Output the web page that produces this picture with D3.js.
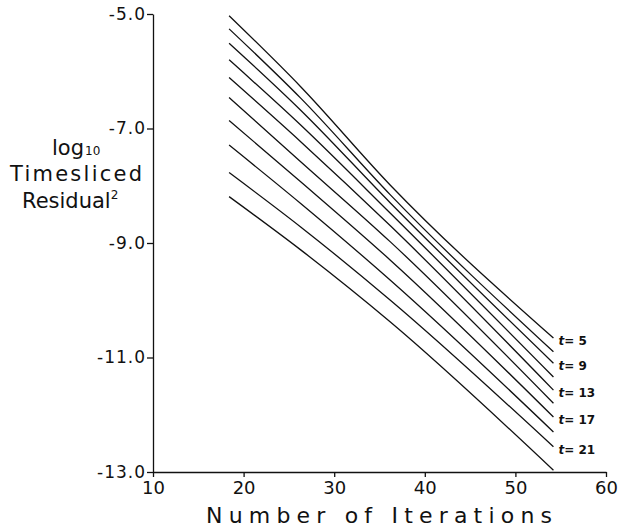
<!DOCTYPE html>
<html>
<head>
<meta charset="utf-8">
<script src="https://cdn.jsdelivr.net/npm/d3@7"></script>
<style>
  body { margin: 0; background: #fff; }
  svg text { font-family: "DejaVu Sans", sans-serif; fill: #111; }
</style>
</head>
<body>
<div id="chart"></div>
<script>
// iteration counts where each curve was sampled
const iterX = [18.4, 26.3, 36.2, 54.2];

// time slice index of each curve
const tValues = [5, 7, 9, 11, 13, 15, 17, 19, 21, 23];

// log10 of timesliced residual^2, one array per curve
const t5  = [-5.03, -6.27, -7.99, -10.66];
const t7  = [-5.26, -6.47, -8.16, -10.90];
const t9  = [-5.51, -6.68, -8.30, -11.10];
const t11 = [-5.80, -6.94, -8.48, -11.34];
const t13 = [-6.11, -7.23, -8.70, -11.57];
const t15 = [-6.46, -7.58, -8.98, -11.80];
const t17 = [-6.86, -7.93, -9.30, -12.04];
const t19 = [-7.29, -8.31, -9.65, -12.30];
const t21 = [-7.77, -8.72, -10.00, -12.56];
const t23 = [-8.19, -9.12, -10.38, -12.97];

const labelledT = [5, 9, 13, 17, 21];
const xTicks = [10, 20, 30, 40, 50, 60];
const yTicks = [-5, -7, -9, -11, -13];

const series = [t5, t7, t9, t11, t13, t15, t17, t19, t21, t23].map((vals, i) => ({
  t: tValues[i],
  points: vals.map((v, j) => ({ x: iterX[j], y: v }))
}));

const width = 618, height = 529;

const xScale = d3.scaleLinear().domain([10, 60]).range([153, 606]);
const yScale = d3.scaleLinear().domain([-13, -5]).range([472, 14]);

const svg = d3.select("#chart")
  .append("svg")
  .attr("width", width)
  .attr("height", height);

// y axis
const yAxis = svg.append("g")
  .attr("transform", `translate(${xScale(10)},0)`)
  .call(d3.axisLeft(yScale).tickValues(yTicks).tickSize(6).tickSizeOuter(0));
yAxis.selectAll("path, line").attr("stroke", "#111").attr("stroke-width", 1.3);
yAxis.selectAll("text")
  .attr("font-size", "17px")
  .attr("letter-spacing", "1px")
  .attr("x", -7)
  .text(d => d3.format(".1f")(d).replace("−", "-"));

// x axis
const xAxis = svg.append("g")
  .attr("transform", `translate(0,${yScale(-13)})`)
  .call(d3.axisBottom(xScale).tickValues(xTicks).tickSize(5).tickSizeOuter(0));
xAxis.selectAll("path, line").attr("stroke", "#111").attr("stroke-width", 1.3);
xAxis.selectAll("text")
  .attr("font-size", "18px")
  .attr("y", 9);

// curves
const line = d3.line()
  .x(d => xScale(d.x))
  .y(d => yScale(d.y))
  .curve(d3.curveMonotoneX);
svg.selectAll(".curve")
  .data(series)
  .enter()
  .append("path")
  .attr("class", "curve")
  .attr("d", d => line(d.points))
  .attr("fill", "none")
  .attr("stroke", "#111")
  .attr("stroke-width", 1.3);

// curve labels
const lbl = svg.selectAll(".tlabel")
  .data(series.filter(s => labelledT.includes(s.t)))
  .enter()
  .append("text")
  .attr("class", "tlabel")
  .attr("x", d => xScale(d.points[d.points.length - 1].x) + 5)
  .attr("y", d => yScale(d.points[d.points.length - 1].y) + 7)
  .attr("font-size", "12px")
  .attr("font-weight", "bold");
lbl.append("tspan").attr("font-style", "italic").text("t");
lbl.append("tspan").text(d => "= " + d.t);

// x title
svg.append("text")
  .attr("x", 379)
  .attr("y", 523)
  .attr("text-anchor", "middle")
  .attr("font-size", "22px")
  .attr("textLength", 346)
  .attr("lengthAdjust", "spacing")
  .text("Number of Iterations");

// y title, three lines
const yt = svg.append("g").attr("font-size", "21px");
const logT = yt.append("text").attr("x", 52).attr("y", 155);
logT.append("tspan").text("log");
logT.append("tspan").attr("font-size", "12px").attr("dx", 1).text("10");
yt.append("text")
  .attr("x", 10).attr("y", 181)
  .attr("textLength", 132).attr("lengthAdjust", "spacing")
  .text("Timesliced");
const resT = yt.append("text").attr("x", 22).attr("y", 208);
resT.append("tspan").text("Residual");
resT.append("tspan").attr("font-size", "12px").attr("dy", -9).text("2");
</script>
</body>
</html>
